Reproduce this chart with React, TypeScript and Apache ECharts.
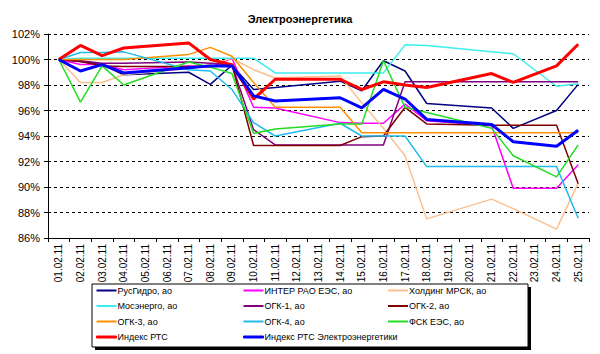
import React, { useEffect, useRef } from "react";
import * as echarts from "echarts";

const dates = [
  "01.02.11", "02.02.11", "03.02.11", "04.02.11", "05.02.11", "06.02.11", "07.02.11",
  "08.02.11", "09.02.11", "10.02.11", "11.02.11", "12.02.11", "13.02.11", "14.02.11",
  "15.02.11", "16.02.11", "17.02.11", "18.02.11", "19.02.11", "20.02.11", "21.02.11",
  "22.02.11", "23.02.11", "24.02.11", "25.02.11",
];

const yTicks = [86, 88, 90, 92, 94, 96, 98, 100, 102];

// values in %, null = no trading (weekends / holiday)
const rusHydro = [100, 99.85, 99.6, 98.8, null, null, 99.0, 98.05, 99.55, 97.65, 97.8, null, null, 98.3, 97.55, 99.9, 99.1, 96.55, null, null, 96.2, 94.6, null, 96.0, 98.05];
const interRao = [100, 99.6, 99.6, 99.2, null, null, 99.5, 99.4, 100.1, 96.25, 96.2, null, null, 95.05, 95.0, 95.0, 96.5, 95.2, null, null, 94.8, 89.9, null, 89.9, 91.75];
const holdingMrsk = [100, 98.2, 98.2, 98.8, null, null, 99.3, 99.6, 100.1, 99.2, 98.55, null, null, 98.7, 96.6, 94.6, 92.45, 87.5, null, null, 89.05, 88.3, null, 86.7, 90.3];
const mosenergo = [100, 100.1, 100.1, 100.1, null, null, 100.1, 100.1, 100.1, 100.1, 98.95, null, null, 98.95, 98.95, 98.95, 101.15, 101.1, null, null, 100.6, 100.45, null, 97.9, 98.1];
const ogk1 = [100, 99.9, 99.7, 99.7, null, null, 99.8, 99.7, 99.6, 94.5, 93.3, null, null, 93.3, 93.3, 93.3, 98.25, 98.25, null, null, 98.25, 98.25, null, 98.25, 98.25];
const ogk2 = [100, 99.85, 99.5, 99.45, null, null, 99.45, 99.5, 99.6, 93.25, 93.25, null, null, 93.25, 93.95, 94.0, 96.25, 94.95, null, null, 94.85, 94.85, null, 94.85, 90.25];
const ogk3 = [100, 100, 100, 100, null, null, 100.4, 100.95, 100.25, 98.2, 96.25, null, null, 96.25, 94.25, 94.25, 94.25, 94.25, null, null, 94.25, 94.25, null, 94.25, 94.25];
const ogk4 = [100, 100.55, 100.55, 100.6, null, null, 99.2, 99.1, 97.65, 95.05, 94.0, null, null, 95.0, 94.0, 94.0, 94.0, 91.6, null, null, 91.6, 91.6, null, 91.6, 87.55];
const fsk = [100, 96.65, 99.5, 98.0, null, null, 99.8, 99.4, 98.9, 94.2, 94.55, null, null, 94.95, 94.95, 99.9, 96.25, 95.85, null, null, 94.6, 92.45, null, 90.8, 93.3];
const rts = [100, 101.1, 100.3, 100.9, null, null, 101.3, 100.0, 99.6, 96.9, 98.45, null, null, 98.45, 97.65, 98.25, 98.0, 97.8, null, null, 98.9, 98.2, null, 99.5, 101.2];
const rtsEl = [100, 99.1, 99.6, 98.95, null, null, 99.35, 99.5, 99.5, 97.15, 96.75, null, null, 97.0, 96.2, 97.65, 96.9, 95.3, null, null, 94.9, 93.55, null, 93.2, 94.45];

const seriesNames = [
  "РусГидро, ао",
  "ИНТЕР РАО ЕЭС, ао",
  "Холдинг МРСК, ао",
  "Мосэнерго, ао",
  "ОГК-1, ао",
  "ОГК-2, ао",
  "ОГК-3, ао",
  "ОГК-4, ао",
  "ФСК ЕЭС, ао",
  "Индекс РТС",
  "Индекс РТС Электроэнергетики",
];
const seriesData = [rusHydro, interRao, holdingMrsk, mosenergo, ogk1, ogk2, ogk3, ogk4, fsk, rts, rtsEl];
const seriesColors = ["#000080", "#FF00FF", "#FAC08F", "#3CEEF0", "#800080", "#800000", "#FF9000", "#22BBEE", "#22DD22", "#FF0000", "#0000FF"];
const seriesWidths = [1.5, 1.5, 1.5, 1.5, 1.5, 1.5, 1.5, 1.5, 1.5, 3, 3];

const FONT = "'Liberation Sans', Arial, sans-serif";

export default function App() {
  const ref = useRef<HTMLDivElement>(null);
  useEffect(() => {
    if (!ref.current) return;
    const chart = echarts.init(ref.current, undefined, { renderer: "svg" });
    const legendItem = (i: number) => ({
      name: seriesNames[i],
      icon: "rect",
      itemStyle:
        seriesWidths[i] > 2
          ? { color: seriesColors[i], borderColor: seriesColors[i], borderWidth: 1 }
          : { color: seriesColors[i], borderWidth: 0 },
    });
    const legendCommon = {
      orient: "vertical" as const,
      top: 286,
      itemWidth: 20,
      itemHeight: 2,
      itemGap: 6.5,
      selectedMode: false,
      textStyle: { fontSize: 9, fontFamily: FONT, color: "#000", padding: [0, 0, 0, -4] },
      padding: 0,
    };
    chart.setOption({
      animation: false,
      backgroundColor: "#fff",
      title: {
        text: "Электроэнергетика",
        left: "center",
        top: 8,
        textStyle: { fontSize: 11, fontWeight: "bold", fontFamily: FONT, color: "#000" },
      },
      grid: { left: 48, right: 11, top: 34, bottom: 116, containLabel: false },
      graphic: [
        { type: "rect", shape: { x: 95, y: 287, width: 436, height: 63 }, style: { fill: "#000" }, z: 0 },
        { type: "rect", shape: { x: 92, y: 284, width: 436, height: 63 }, style: { fill: "#fff", stroke: "#000", lineWidth: 1 }, z: 1 },
      ],
      legend: [
        { ...legendCommon, left: 96, data: [0, 3, 6, 9].map(legendItem) },
        { ...legendCommon, left: 243, data: [1, 4, 7, 10].map(legendItem) },
        { ...legendCommon, left: 388, data: [2, 5, 8].map(legendItem) },
      ],
      xAxis: {
        type: "category",
        data: dates,
        boundaryGap: true,
        axisLine: { lineStyle: { color: "#000", width: 1 } },
        axisTick: { show: true, length: 4, lineStyle: { color: "#000" } },
        axisLabel: { rotate: 90, fontSize: 10, fontFamily: FONT, color: "#000", margin: 6, interval: 0 },
      },
      yAxis: {
        type: "value",
        min: yTicks[0],
        max: yTicks[yTicks.length - 1],
        interval: 2,
        axisLine: { show: true, lineStyle: { color: "#000", width: 1 } },
        axisTick: { show: true, length: 4, lineStyle: { color: "#000" } },
        axisLabel: { formatter: "{value}%", fontSize: 11, fontFamily: FONT, color: "#000", margin: 8 },
        splitLine: { show: true, lineStyle: { color: "#000", type: [3, 3], width: 1 } },
      },
      series: seriesNames.map((name, i) => ({
        name,
        type: "line",
        data: seriesData[i],
        connectNulls: true,
        symbol: "none",
        color: seriesColors[i],
        lineStyle: { color: seriesColors[i], width: seriesWidths[i] },
        emphasis: { disabled: true },
        z: 2 + i,
      })),
    });
    return () => chart.dispose();
  }, []);
  return (
    <div
      ref={ref}
      style={{ position: "absolute", left: 0, top: 0, width: 600, height: 354, background: "#fff" }}
    />
  );
}
